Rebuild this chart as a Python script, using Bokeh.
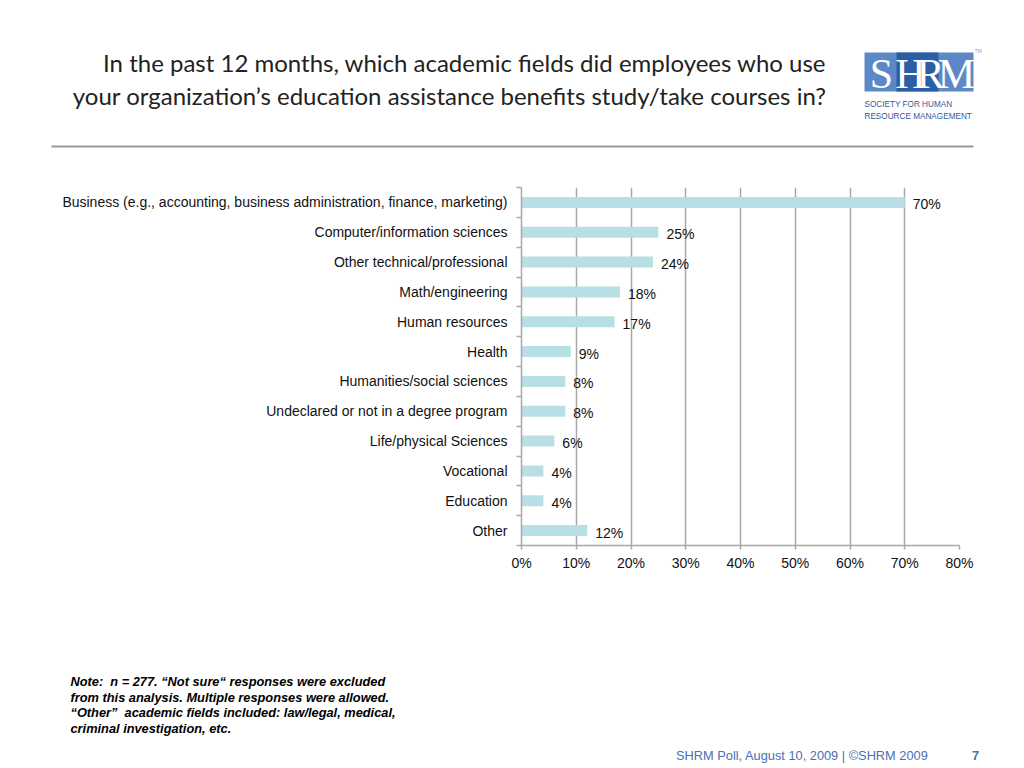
from bokeh.plotting import figure
from bokeh.layouts import column
from bokeh.models import Range1d, FixedTicker, ColumnDataSource
from bokeh.core.properties import value
from bokeh.embed import file_html
from bokeh.resources import INLINE

# ---------------- data ----------------
categories = [
    "Business (e.g., accounting, business administration, finance, marketing)",
    "Computer/information sciences",
    "Other technical/professional",
    "Math/engineering",
    "Human resources",
    "Health",
    "Humanities/social sciences",
    "Undeclared or not in a degree program",
    "Life/physical Sciences",
    "Vocational",
    "Education",
    "Other",
]
percentages = [70, 25, 24, 18, 17, 9, 8, 8, 6, 4, 4, 12]
x_ticks = [0, 10, 20, 30, 40, 50, 60, 70, 80]

title_lines = [
    "In the past 12 months, which academic fields did employees who use",
    "your organization\u2019s education assistance benefits study/take courses in?",
]
note_lines = [
    "Note:\u00a0 n = 277. \u201cNot sure\u201c responses were excluded",
    "from this analysis. Multiple responses were allowed.",
    "\u201cOther\u201d\u00a0 academic fields included: law/legal, medical,",
    "criminal investigation, etc.",
]
footer_text = "SHRM Poll, August 10, 2009 | \u00a9SHRM 2009"
page_number = "7"
logo_letters = ["S", "H", "R", "M"]
logo_lines = ["SOCIETY FOR HUMAN", "RESOURCE MANAGEMENT"]

# ---------------- layout constants (page pixels) ----------------
W = 1024
TOP_H, MAIN_H, BOT_H = 160, 440, 168
FL, FR, FT, FB = 521, 959, 187, 545   # chart frame edges on the page
FONT = "Liberation Sans"
GRID = "#a8a8a8"
BLUE_TXT = "#4a6fb3"


def deco_fig(height, y0):
    f = figure(width=W, height=height, x_range=Range1d(0, W),
               y_range=Range1d(y0 + height, y0),
               output_backend="svg", toolbar_location=None,
               x_axis_location=None, y_axis_location=None,
               min_border=0, frame_align=False)
    f.outline_line_color = None
    f.grid.grid_line_color = None
    f.background_fill_color = "white"
    f.border_fill_color = "white"
    return f


# ---------------- top band: title + logo ----------------
top = deco_fig(TOP_H, 0)
top.text(x=[826] * len(title_lines), y=[62, 95], text=title_lines,
         text_align="right", text_baseline="middle",
         text_font=value("Lato"), text_font_size="24px", text_color="#222222")
top.segment(x0=[51], y0=[146], x1=[973], y1=[146], line_color="#9a9a9a", line_width=1.8)
top.quad(left=[864], right=[973], top=[52], bottom=[91], fill_color="#5d88c6", line_color=None)
top.quad(left=[896], right=[938], top=[52], bottom=[91], fill_color="#2c5ea5", line_color=None)
top.text(x=[881, 910, 930, 956], y=[73] * 4, text=logo_letters,
         text_align="center", text_baseline="middle",
         text_font=value("Liberation Serif"), text_font_size="42px", text_color="white")
top.text(x=[974], y=[50], text=["TM"], text_align="left", text_baseline="middle",
         text_font=value(FONT), text_font_size="5px", text_color="#8aa0c0")
top.text(x=[864, 864], y=[104, 116], text=logo_lines, text_align="left",
         text_baseline="middle", text_font=value(FONT), text_font_size="8.2px",
         text_color="#2f5a9e")

# ---------------- main chart ----------------
n = len(categories)
positions = list(range(n, 0, -1))
source = ColumnDataSource(dict(
    y=positions,
    v=percentages,
    lab=[f"{v}%" for v in percentages],
))

p = figure(
    width=W, height=MAIN_H,
    x_range=Range1d(0, 80), y_range=Range1d(0.5, n + 0.5),
    output_backend="svg", toolbar_location=None,
    min_border_left=FL, min_border_right=W - FR,
    min_border_top=FT - TOP_H, min_border_bottom=TOP_H + MAIN_H - FB,
    frame_align=False,
)
p.outline_line_color = None
p.background_fill_color = "white"
p.border_fill_color = "white"

p.hbar(y="y", right="v", left=0, height=0.37, source=source,
       fill_color="#b8dfe3", line_color=None)
p.text(x="v", y="y", text="lab", source=source, x_offset=8, y_offset=2,
       text_baseline="middle", text_align="left", text_font=value(FONT),
       text_font_size="14px", text_color="#111111")

xa = p.xaxis[0]
xa.ticker = FixedTicker(ticks=x_ticks)
xa.major_label_overrides = {t: f"{t}%" for t in x_ticks}
xa.axis_line_color = GRID
xa.axis_line_width = 1.5
xa.major_tick_line_color = GRID
xa.major_tick_line_width = 1.5
xa.major_tick_in = 0
xa.major_tick_out = 4
xa.minor_tick_line_color = None
xa.major_label_standoff = 5
xa.major_label_text_font = FONT
xa.major_label_text_font_size = "14px"
xa.major_label_text_color = "#111111"

ya = p.yaxis[0]
ya.ticker = FixedTicker(ticks=positions,
                        minor_ticks=[k + 0.5 for k in range(0, n + 1)])
ya.major_label_overrides = {pos: cat for pos, cat in zip(positions, categories)}
ya.axis_line_color = GRID
ya.axis_line_width = 1.5
ya.major_tick_line_color = None
ya.major_tick_in = 0
ya.major_tick_out = 0
ya.minor_tick_line_color = GRID
ya.minor_tick_line_width = 1.5
ya.minor_tick_in = 0
ya.minor_tick_out = 5
ya.major_label_standoff = 9
ya.major_label_text_font = FONT
ya.major_label_text_font_size = "14px"
ya.major_label_text_color = "#111111"

p.ygrid.grid_line_color = None
p.xgrid.ticker = FixedTicker(ticks=x_ticks)
p.xgrid.grid_line_color = GRID
p.xgrid.grid_line_width = 1.5

# ---------------- bottom band: note + footer ----------------
y0 = TOP_H + MAIN_H
bot = deco_fig(BOT_H, y0)
bot.text(x=[70] * len(note_lines), y=[681 + 15.7 * i for i in range(len(note_lines))],
         text=note_lines, text_align="left", text_baseline="middle",
         text_font=value(FONT), text_font_size="12.8px",
         text_font_style="bold italic", text_color="#000000")
bot.text(x=[928], y=[755], text=[footer_text], text_align="right", text_baseline="middle",
         text_font=value(FONT), text_font_size="12.8px", text_color=BLUE_TXT)
bot.text(x=[975], y=[755], text=[page_number], text_align="center", text_baseline="middle",
         text_font=value(FONT), text_font_size="12.8px", text_font_style="bold",
         text_color=BLUE_TXT)

layout = column(top, p, bot, spacing=0)
open("out.html", "w").write(file_html(layout, INLINE))
